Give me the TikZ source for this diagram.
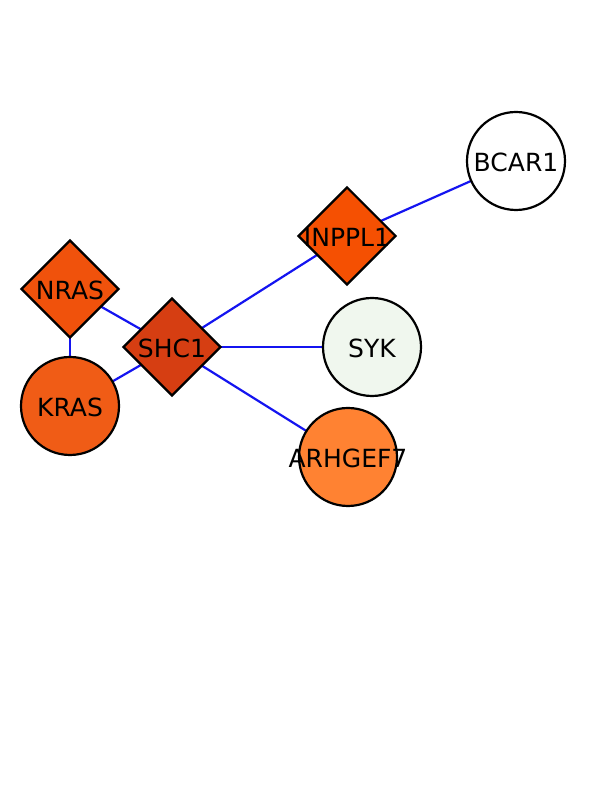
\documentclass[tikz,border=0pt]{standalone}
\usepackage{fontspec}
\setmainfont{DejaVu Sans}
\usetikzlibrary{shapes.geometric,backgrounds}
\definecolor{cnras}{RGB}{240,82,12}
\definecolor{cshc}{RGB}{214,62,18}
\definecolor{ckras}{RGB}{240,92,22}
\definecolor{cinppl}{RGB}{245,80,2}
\definecolor{carh}{RGB}{255,130,50}
\definecolor{csyk}{RGB}{240,247,238}
\definecolor{cedge}{RGB}{20,20,240}
\tikzset{
  gene/.style={draw=black, line width=2.2pt, inner sep=0pt, minimum size=98pt,
    label={[font=\fontsize{25}{28}\selectfont, text=black, yshift=-1pt]center:#1}},
  diam/.style={gene=#1, diamond, aspect=1},
  circ/.style={gene=#1, circle},
  edge/.style={draw=cedge, line width=2.2pt}
}
\begin{document}
\begin{tikzpicture}[x=1pt,y=1pt]
\useasboundingbox (0,0) rectangle (612,792);
\node[diam=NRAS, fill=cnras] (nras) at (70,503) {};
\node[circ=KRAS, fill=ckras] (kras) at (70,386) {};
\node[diam=SHC1, fill=cshc] (shc1) at (172,445) {};
\node[diam=INPPL1, fill=cinppl] (inppl1) at (347,556) {};
\node[circ=BCAR1, fill=white] (bcar1) at (516,631) {};
\node[circ=SYK, fill=csyk] (syk) at (372,445) {};
\node[circ=ARHGEF7, fill=carh] (arhgef7) at (348,335) {};
\begin{scope}[on background layer]
\draw[edge] (nras.center) -- (kras.center);
\draw[edge] (nras.center) -- (shc1.center);
\draw[edge] (kras.center) -- (shc1.center);
\draw[edge] (shc1.center) -- (inppl1.center);
\draw[edge] (shc1.center) -- (syk.center);
\draw[edge] (shc1.center) -- (arhgef7.center);
\draw[edge] (inppl1.center) -- (bcar1.center);
\end{scope}
\end{tikzpicture}
\end{document}
